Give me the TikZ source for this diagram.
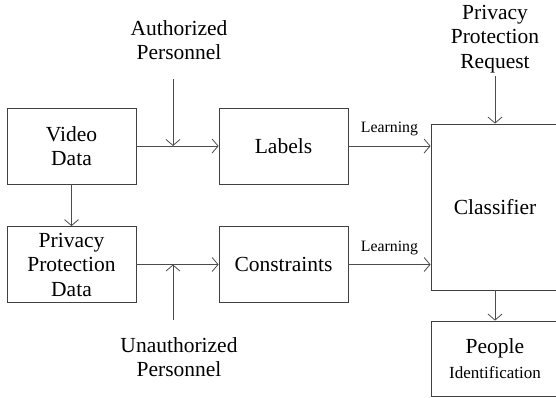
\documentclass[tikz,border=0pt]{standalone}
\usepackage{fontspec}
\setmainfont{Liberation Serif}
\usetikzlibrary{arrows.meta}
\begin{document}
\begin{tikzpicture}[
    x=1pt, y=-1pt,
    b/.style={draw=black!75,line width=0.8pt,rectangle,minimum height=76pt,minimum width=129pt,inner sep=1pt,align=center,font=\rmfamily\fontsize{21.5}{24.5}\selectfont},
    t/.style={align=center,font=\rmfamily\fontsize{21.5}{24.5}\selectfont},
    lrn/.style={font=\rmfamily\fontsize{15.8}{18}\selectfont,above=6pt},
    a/.style={-{Straight Barb[length=6pt,width=14pt]},line width=0.8pt,draw=black!70},
]
    \useasboundingbox (0,0) rectangle (556,397);

    \tikzset{
        node distance=212pt,
    }

    \node[b] (video) at (71.5,146) {Video\\Data};
    \node[b,right of=video] (labels) {Labels};
    \node[b,below of=video,node distance=118.5pt] (ppd) {Privacy\\Protection\\Data};
    \node[b,right of=ppd] (cons) {Constraints};
    \node[b,minimum height=166pt,minimum width=128pt] (cls) at (495,207) {Classifier};
    \node[b,minimum height=75pt,minimum width=128pt,below of=cls,node distance=151.5pt] (pid) {People\\{\fontsize{17}{20}\selectfont Identification}};

    \node[t] (auth) at (179,40) {Authorized\\Personnel};
    \node[t] (unauth) at (179,357) {Unauthorized\\Personnel};
    \node[t] (req) at (495,39) {Privacy\\Protection\\Request};

    \coordinate (ja0) at (173,79);
    \coordinate (ja) at (173,146);
    \coordinate (ju0) at (173,320);
    \coordinate (ju) at (173,264.5);

    \draw[a]
        (video) edge (labels)
        (video) edge (ppd)
        (ppd) edge (cons)
        (req) edge (cls)
        (cls) edge (pid)
    ;
    \draw[a] (ja0) -- (ja);
    \draw[a] (ju0) -- (ju);
    \draw[a] (labels) -- node[lrn] {Learning} (labels -| cls.west);
    \draw[a] (cons) -- node[lrn] {Learning} (cons -| cls.west);

\end{tikzpicture}
\end{document}
